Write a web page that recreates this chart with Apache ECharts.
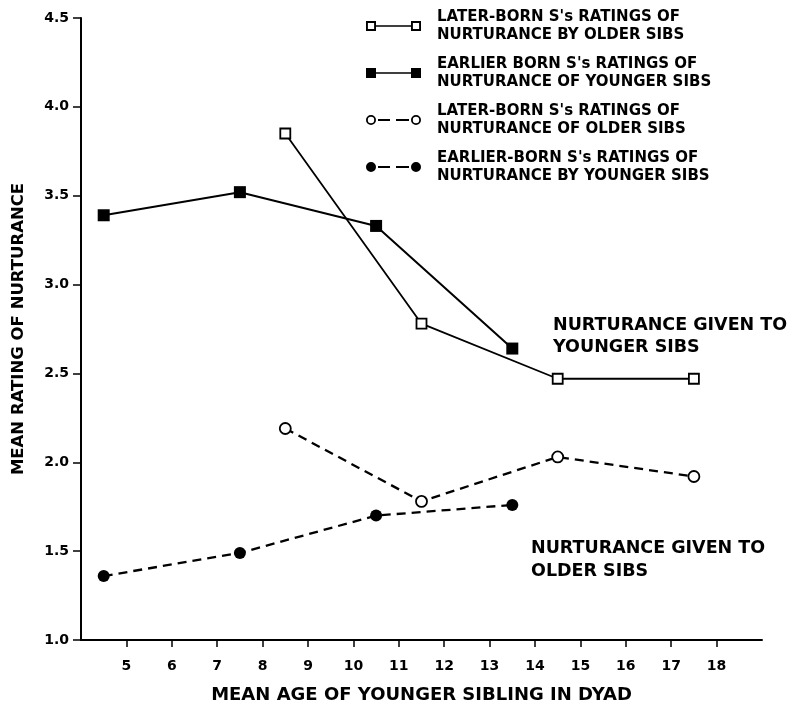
<!DOCTYPE html>
<html>
<head>
<meta charset="utf-8">
<script src="https://cdn.jsdelivr.net/npm/echarts@6/dist/echarts.min.js"></script>
<style>
  html, body { margin: 0; padding: 0; background: #fff; }
  #chart { width: 801px; height: 706px; }
</style>
</head>
<body>
<div id="chart"></div>
<script>
// ---- data ----
const ageEarlier = [4.5, 7.5, 10.5, 13.5];
const ageLater = [8.5, 11.5, 14.5, 17.5];
const laterByOlder = [3.85, 2.78, 2.47, 2.47];       // open squares, solid
const earlierOfYounger = [3.39, 3.52, 3.33, 2.64];   // filled squares, solid
const laterOfOlder = [2.19, 1.78, 2.03, 1.92];       // open circles, dashed
const earlierByYounger = [1.36, 1.49, 1.70, 1.76];   // filled circles, dashed
const xTickValues = [5, 6, 7, 8, 9, 10, 11, 12, 13, 14, 15, 16, 17, 18];
const seriesNames = [
  "LATER-BORN S's RATINGS OF\nNURTURANCE BY OLDER SIBS",
  "EARLIER BORN S's RATINGS OF\nNURTURANCE OF YOUNGER SIBS",
  "LATER-BORN S's RATINGS OF\nNURTURANCE OF OLDER SIBS",
  "EARLIER-BORN S's RATINGS OF\nNURTURANCE BY YOUNGER SIBS"
];
const xAxisTitle = 'MEAN AGE OF YOUNGER SIBLING IN DYAD';
const yAxisTitle = 'MEAN RATING OF NURTURANCE';
const noteYounger = 'NURTURANCE GIVEN TO\nYOUNGER SIBS';
const noteOlder = 'NURTURANCE GIVEN TO\nOLDER SIBS';

function pairs(xs, ys) { return xs.map((x, i) => [x, ys[i]]); }

// legend icons (decorative glyphs: symbol - line - symbol)
const iconOpenSquare = 'path://M0 0H10V10H0Z M1.9 1.9V8.1H8.1V1.9Z M45 0H55V10H45Z M46.9 1.9V8.1H53.1V1.9Z M10 4.2H45V5.8H10Z';
const iconFilledSquare = 'path://M0 0H10V10H0Z M45 0H55V10H45Z M10 4.2H45V5.8H10Z';
const iconOpenCircle = 'path://M0 5A5 5 0 1 1 10 5A5 5 0 1 1 0 5Z M1.8 5A3.2 3.2 0 1 0 8.2 5A3.2 3.2 0 1 0 1.8 5Z M45 5A5 5 0 1 1 55 5A5 5 0 1 1 45 5Z M46.8 5A3.2 3.2 0 1 0 53.2 5A3.2 3.2 0 1 0 46.8 5Z M12 4.1H24V5.9H12Z M30 4.1H43V5.9H30Z';
const iconFilledCircle = 'path://M0 5A5 5 0 1 1 10 5A5 5 0 1 1 0 5Z M45 5A5 5 0 1 1 55 5A5 5 0 1 1 45 5Z M12 4.1H24V5.9H12Z M30 4.1H43V5.9H30Z';
const icons = [iconOpenSquare, iconFilledSquare, iconOpenCircle, iconFilledCircle];

const FONT = 'DejaVu Sans';
const chart = echarts.init(document.getElementById('chart'), null, { renderer: 'canvas' });

const option = {
  animation: false,
  backgroundColor: '#fff',
  grid: { left: 81, right: 39, top: 18, bottom: 66, containLabel: false, outerBoundsMode: 'none' },
  xAxis: {
    type: 'value', min: 4, max: 19,
    name: xAxisTitle, nameLocation: 'middle', nameGap: 46,
    nameTextStyle: { fontFamily: FONT, fontWeight: 'bold', fontSize: 18, color: '#000' },
    axisLine: { show: true, onZero: false, lineStyle: { color: '#000', width: 2 } },
    axisTick: { show: true, length: 7, lineStyle: { color: '#000', width: 1.5 }, customValues: xTickValues },
    axisLabel: { customValues: xTickValues, margin: 19, fontFamily: FONT, fontWeight: 'bold', fontSize: 14, color: '#000' },
    splitLine: { show: false }
  },
  yAxis: {
    type: 'value', min: 1, max: 4.5, interval: 0.5,
    name: yAxisTitle, nameLocation: 'middle', nameGap: 54,
    nameTextStyle: { fontFamily: FONT, fontWeight: 'bold', fontSize: 16.5, color: '#000' },
    axisLine: { show: true, onZero: false, lineStyle: { color: '#000', width: 2 } },
    axisTick: { show: true, length: 8, lineStyle: { color: '#000', width: 1.5 } },
    axisLabel: { margin: 12, fontFamily: FONT, fontWeight: 'bold', fontSize: 14, color: '#000',
      formatter: v => v.toFixed(1) },
    splitLine: { show: false }
  },
  legend: {
    orient: 'vertical', left: 366, top: 8, padding: 0,
    itemWidth: 55, itemHeight: 10, itemGap: 11,
    selectedMode: false,
    textStyle: { fontFamily: FONT, fontWeight: 'bold', fontSize: 15, lineHeight: 18, color: '#000', padding: [0, 0, 0, 11] },
    data: seriesNames.map((n, i) => ({
      name: n, icon: icons[i],
      itemStyle: { color: '#000', borderWidth: 0, opacity: 1 }
    }))
  },
  graphic: [
    { type: 'text', left: 553, top: 314, z: 10,
      style: { text: noteYounger, fontFamily: FONT, fontWeight: 'bold', fontSize: 17.5, lineHeight: 22, fill: '#000' } },
    { type: 'text', left: 531, top: 537, z: 10,
      style: { text: noteOlder, fontFamily: FONT, fontWeight: 'bold', fontSize: 17.5, lineHeight: 23, fill: '#000' } }
  ],
  series: [
    { name: seriesNames[0], type: 'line', data: pairs(ageLater, laterByOlder),
      symbol: 'rect', symbolSize: 10, showAllSymbol: true,
      itemStyle: { color: '#fff', borderColor: '#000', borderWidth: 1.8 },
      lineStyle: { color: '#000', width: 1.8, type: 'solid' }, z: 3 },
    { name: seriesNames[1], type: 'line', data: pairs(ageEarlier, earlierOfYounger),
      symbol: 'rect', symbolSize: 12,
      itemStyle: { color: '#000', borderColor: '#000', borderWidth: 0 },
      lineStyle: { color: '#000', width: 2, type: 'solid' }, z: 3 },
    { name: seriesNames[2], type: 'line', data: pairs(ageLater, laterOfOlder),
      symbol: 'circle', symbolSize: 11,
      itemStyle: { color: '#fff', borderColor: '#000', borderWidth: 1.8 },
      lineStyle: { color: '#000', width: 2.3, type: [9, 6] }, z: 3 },
    { name: seriesNames[3], type: 'line', data: pairs(ageEarlier, earlierByYounger),
      symbol: 'circle', symbolSize: 12,
      itemStyle: { color: '#000', borderColor: '#000', borderWidth: 0 },
      lineStyle: { color: '#000', width: 2.3, type: [9, 6] }, z: 3 }
  ]
};
chart.setOption(option);
</script>
</body>
</html>
